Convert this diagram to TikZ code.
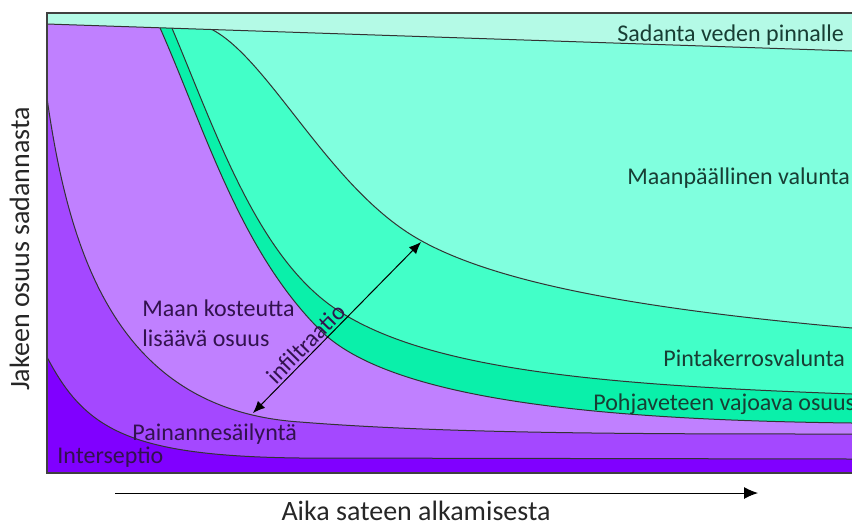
\documentclass[tikz,border=0pt]{standalone}
\usepackage{fontspec}
\setmainfont{Carlito}
\usepackage{tikz}
\usetikzlibrary{arrows.meta}
\definecolor{csurface}{RGB}{180,250,230}
\definecolor{coverland}{RGB}{128,255,222}
\definecolor{cinter}{RGB}{66,255,200}
\definecolor{cground}{RGB}{10,240,170}
\definecolor{csoil}{RGB}{192,128,255}
\definecolor{cdepress}{RGB}{164,72,255}
\definecolor{cintercept}{RGB}{128,0,255}
\definecolor{cgreentext}{RGB}{24,62,52}
\definecolor{cpurpletext}{RGB}{50,18,78}

\def\curveA{(160, 27.8) .. controls (205, 130) and (240, 250) .. (320, 330) .. controls (390, 400) and (600, 420) .. (852, 423)}
\def\curveB{(172, 28.2) .. controls (215, 130) and (255, 250) .. (330, 305) .. controls (420, 370) and (600, 385) .. (852, 394)}
\def\curveC{(212, 29.5) .. controls (270, 60) and (330, 190) .. (420, 240) .. controls (500, 285) and (650, 310) .. (852, 328)}
\def\curveD{(47, 98) .. controls (70, 260) and (120, 410) .. (300, 422) .. controls (450, 434) and (650, 434) .. (852, 434)}
\def\curveE{(47, 357) .. controls (85, 430) and (130, 456) .. (300, 458) -- (852, 459)}

\tikzset{
  boundary/.style={line width=0.5pt, draw=black!80},
  layertext/.style={font=\fontsize{12}{15}\selectfont, inner sep=0pt, anchor=base west},
  axistext/.style={font=\fontsize{14}{17}\selectfont, inner sep=0pt, text=black!85}
}

\begin{document}
\begin{tikzpicture}[x=0.5pt, y=-0.5pt]

  \useasboundingbox (0, 0) rectangle (852, 526);

  \fill [csurface] (47, 13) rectangle (852, 473);
  \fill [coverland] (47, 24) -- (852, 51) -- (852, 473) -- (47, 473) -- cycle;
  \fill [cinter] \curveC -- (852, 473) -- (47, 473) -- (47, 24) -- cycle;
  \fill [cground] \curveB -- (852, 473) -- (47, 473) -- (47, 24) -- cycle;
  \fill [csoil] \curveA -- (852, 473) -- (47, 473) -- (47, 24) -- cycle;
  \fill [cdepress] \curveD -- (852, 473) -- (47, 473) -- cycle;
  \fill [cintercept] \curveE -- (852, 473) -- (47, 473) -- cycle;

  \draw [boundary] (47, 24) -- (852, 51);
  \draw [boundary] \curveA;
  \draw [boundary] \curveB;
  \draw [boundary] \curveC;
  \draw [boundary] \curveD;
  \draw [boundary] \curveE;
  \draw [line width=0.6pt, black!75] (852, 13) -- (47, 13) -- (47, 473) -- (852, 473);

  \node [layertext, text=cgreentext] (surface) at (617, 41) {Sadanta veden pinnalle};
  \node [layertext, text=cgreentext] (overland) at (627, 184) {Maanpäällinen valunta};
  \node [layertext, text=cgreentext] (interflow) at (663, 366) {Pintakerrosvalunta};
  \node [layertext, text=cgreentext] (ground) at (593, 410) {Pohjaveteen vajoava osuus};
  \node [layertext, text=cpurpletext] (soil1) at (142, 316) {Maan kosteutta};
  \node [layertext, text=cpurpletext] (soil2) at (142, 346) {lisäävä osuus};
  \node [layertext, text=cpurpletext] (depress) at (132, 440) {Painannesäilyntä};
  \node [layertext, text=cpurpletext] (intercept) at (57, 463) {Interseptio};

  \coordinate (inf-a) at (253, 413);
  \coordinate (inf-b) at (421, 242);
  \draw [line width=0.5pt, {Latex[length=6pt, width=5pt]}-{Latex[length=6pt, width=5pt]}] (inf-a) -- node[sloped, above, pos=0.36, inner sep=1pt, font=\fontsize{12}{15}\selectfont, text=cpurpletext] (infil) {infiltraatio} (inf-b);

  \coordinate (t-start) at (115, 493);
  \coordinate (t-end) at (758, 493);
  \draw [line width=0.5pt, -{Latex[length=7pt, width=6pt]}] (t-start) -- (t-end);
  \node [axistext, anchor=base] (xlabel) at (416, 520) {Aika sateen alkamisesta};
  \node [axistext, anchor=base, rotate=90] (ylabel) at (29, 249) {Jakeen osuus sadannasta};

\end{tikzpicture}
\end{document}
